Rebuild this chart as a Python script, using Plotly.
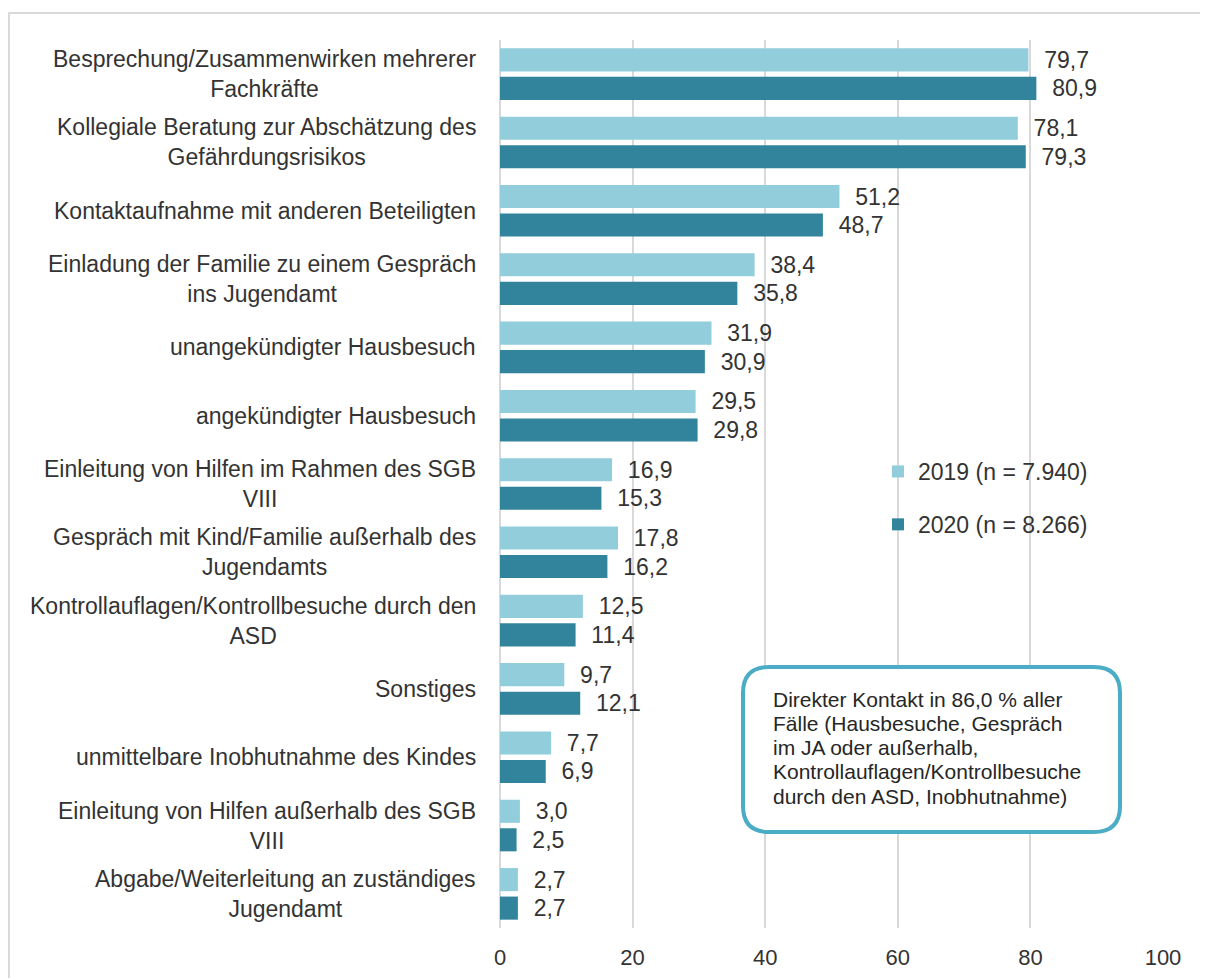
import plotly.graph_objects as go

categories = [
    "Besprechung/Zusammenwirken mehrerer<br>Fachkräfte",
    "Kollegiale Beratung zur Abschätzung des<br>Gefährdungsrisikos",
    "Kontaktaufnahme mit anderen Beteiligten",
    "Einladung der Familie zu einem Gespräch<br>ins Jugendamt",
    "unangekündigter Hausbesuch",
    "angekündigter Hausbesuch",
    "Einleitung von Hilfen im Rahmen des SGB<br>VIII",
    "Gespräch mit Kind/Familie außerhalb des<br>Jugendamts",
    "Kontrollauflagen/Kontrollbesuche durch den<br>ASD",
    "Sonstiges",
    "unmittelbare Inobhutnahme des Kindes",
    "Einleitung von Hilfen außerhalb des SGB<br>VIII",
    "Abgabe/Weiterleitung an zuständiges<br>Jugendamt",
]
values_2019 = [79.7, 78.1, 51.2, 38.4, 31.9, 29.5, 16.9, 17.8, 12.5, 9.7, 7.7, 3.0, 2.7]
values_2020 = [80.9, 79.3, 48.7, 35.8, 30.9, 29.8, 15.3, 16.2, 11.4, 12.1, 6.9, 2.5, 2.7]
series_names = ["2019 (n = 7.940)", "2020 (n = 8.266)"]
x_ticks = [0, 20, 40, 60, 80, 100]
box_lines = [
    "Direkter Kontakt in 86,0 % aller",
    "Fälle (Hausbesuche, Gespräch",
    "im JA oder außerhalb,",
    "Kontrollauflagen/Kontrollbesuche",
    "durch den ASD, Inobhutnahme)",
]

W, H = 1208, 978
OFF = 8  # page offset of the figure in the screenshot
ML, MR, MT, MB = 492, 53, 32, 58
PW, PH = W - ML - MR, H - MT - MB


def px_x(px):
    return (px - OFF - ML) / PW


def px_y(py):
    return (H - MB - (py - OFF)) / PH


FONT = "Liberation Sans, Arial, sans-serif"
TXT = "#333333"
C19 = "#92CDDC"
C20 = "#31849B"


def fmt(v):
    return "\u00a0\u00a0" + f"{v:.1f}".replace(".", ",")


fig = go.Figure()
for name, vals, col, grp in [(series_names[0], values_2019, C19, "a"),
                             (series_names[1], values_2020, C20, "b")]:
    fig.add_trace(go.Bar(
        y=categories, x=vals, orientation="h", name=name,
        marker=dict(color=col, line=dict(width=0)),
        text=[fmt(v) for v in vals], textposition="outside",
        textfont=dict(size=23, color=TXT, family=FONT),
        constraintext="none", cliponaxis=False,
        legendgroup=grp,
    ))

for c in categories:
    fig.add_annotation(
        x=0, xref="paper", xshift=-22, xanchor="right",
        y=c, yref="y", yanchor="middle",
        text=c, align="center", showarrow=False,
        font=dict(size=23, color=TXT, family=FONT),
    )

# rounded box
x0, x1, y0, y1, r = 743, 1120, 667, 832, 26
pts = [
    f"M {px_x(x0 + r)},{px_y(y0)}",
    f"L {px_x(x1 - r)},{px_y(y0)}",
    f"Q {px_x(x1)},{px_y(y0)} {px_x(x1)},{px_y(y0 + r)}",
    f"L {px_x(x1)},{px_y(y1 - r)}",
    f"Q {px_x(x1)},{px_y(y1)} {px_x(x1 - r)},{px_y(y1)}",
    f"L {px_x(x0 + r)},{px_y(y1)}",
    f"Q {px_x(x0)},{px_y(y1)} {px_x(x0)},{px_y(y1 - r)}",
    f"L {px_x(x0)},{px_y(y0 + r)}",
    f"Q {px_x(x0)},{px_y(y0)} {px_x(x0 + r)},{px_y(y0)}",
    "Z",
]
fig.add_shape(type="path", path=" ".join(pts), xref="paper", yref="paper",
              line=dict(color="#4BACC6", width=4), fillcolor="white", layer="above")
for i, line in enumerate(box_lines):
    fig.add_annotation(
        x=px_x(771), y=px_y(699 + i * 24.3), xref="paper", yref="paper",
        xanchor="left", yanchor="middle", align="left", showarrow=False,
        text=line, font=dict(size=21, color="#262626", family=FONT),
    )

# outer frame
fig.add_shape(type="rect", xref="paper", yref="paper",
              x0=px_x(9), x1=px_x(1240), y0=px_y(13), y1=px_y(1010),
              line=dict(color="#D9D9D9", width=2), layer="below")

fig.update_layout(
    width=W, height=H,
    margin=dict(l=ML, r=MR, t=MT, b=MB),
    paper_bgcolor="white", plot_bgcolor="white",
    barmode="group", bargap=0.165, bargroupgap=0.19,
    font=dict(family=FONT, color=TXT, size=23),
    showlegend=True,
    legend=dict(x=px_x(878), y=px_y(450), xanchor="left", yanchor="top",
                traceorder="grouped", tracegroupgap=20, itemwidth=30,
                font=dict(size=23, color=TXT, family=FONT),
                bgcolor="rgba(0,0,0,0)"),
)
fig.update_xaxes(range=[0, 100], tickvals=x_ticks, showgrid=True,
                 gridcolor="#D9D9D9", gridwidth=2, zeroline=True,
                 zerolinecolor="#D9D9D9", zerolinewidth=2, showline=False,
                 ticks="outside", ticklen=10, tickcolor="rgba(0,0,0,0)",
                 tickfont=dict(size=22, color=TXT, family=FONT))
fig.update_yaxes(categoryorder="array", categoryarray=categories,
                 range=[len(categories) - 0.5, -0.5], showticklabels=False,
                 showgrid=False, zeroline=False, showline=False)

fig.write_html("out.html")
